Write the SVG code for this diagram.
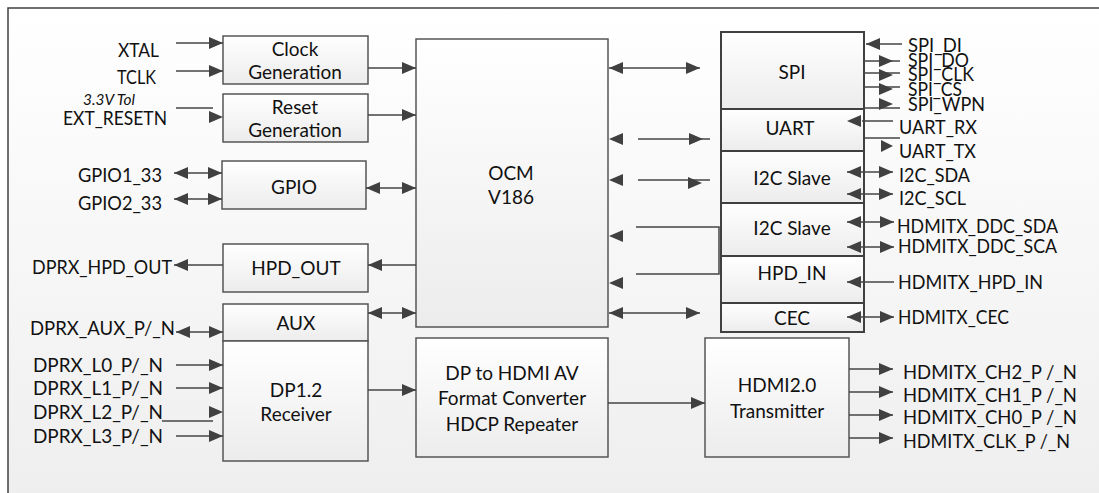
<svg xmlns="http://www.w3.org/2000/svg" width="1099" height="493" viewBox="0 0 1099 493">
<defs>
<linearGradient id="bg" x1="0" y1="0" x2="0" y2="1"><stop offset="0" stop-color="#ffffff"/><stop offset="1" stop-color="#eeeeee"/></linearGradient>
<linearGradient id="bx" x1="0" y1="0" x2="0" y2="1"><stop offset="0" stop-color="#ffffff"/><stop offset="1" stop-color="#ececec"/></linearGradient>
<marker id="ah" viewBox="0 0 14 12" refX="14" refY="6" markerWidth="14" markerHeight="12" markerUnits="userSpaceOnUse" orient="auto-start-reverse"><path d="M0,0 L14,6 L0,12 z" fill="#404040"/></marker>
</defs>
<style>
.t{font-family:Lato,"Open Sans",sans-serif;font-size:19px;fill:#111111}
.c{text-anchor:middle}
.e{text-anchor:end}
.i{font-style:italic;font-size:15px}
.b{fill:url(#bx);stroke:#555555;stroke-width:1.5}
.s{stroke:#404040;stroke-width:2}
.l{stroke:#444444;stroke-width:1.5;fill:none}
.a{marker-end:url(#ah)}
.d{marker-start:url(#ah);marker-end:url(#ah)}
.h{fill:#404040}
</style>
<rect x="0" y="0" width="1099" height="493" fill="#ffffff"/>
<rect x="8" y="8" width="1100" height="500" fill="url(#bg)" stroke="#404040" stroke-width="1.5"/>

<g id="clock"><rect class="b" x="223" y="36" width="145" height="48"/><text class="t c" x="295" y="56">Clock</text><text class="t c" x="295" y="79">Generation</text></g>
<g id="reset"><rect class="b" x="223" y="94" width="145" height="48"/><text class="t c" x="295" y="114">Reset</text><text class="t c" x="295" y="137">Generation</text></g>
<g id="gpio"><rect class="b" x="222" y="161" width="144" height="48"/><text class="t c" x="294" y="194">GPIO</text></g>
<g id="hpdout"><rect class="b" x="223" y="244" width="145" height="48"/><text class="t c" x="296" y="275">HPD_OUT</text></g>
<g id="aux"><rect class="b" x="223" y="304" width="145" height="37"/><text class="t c" x="296" y="330">AUX</text></g>
<g id="dprx"><rect class="b" x="223" y="341" width="145" height="120"/><text class="t c" x="296" y="397">DP1.2</text><text class="t c" x="296" y="421">Receiver</text></g>
<g id="ocm"><rect class="b" x="416" y="39" width="192" height="288"/><text class="t c" x="511" y="180">OCM</text><text class="t c" x="511" y="204">V186</text></g>
<g id="conv"><rect class="b" x="416" y="338" width="192" height="119"/><text class="t c" x="512" y="380">DP to HDMI AV</text><text class="t c" x="512" y="405">Format Converter</text><text class="t c" x="512" y="431">HDCP Repeater</text></g>
<g id="hdmitx"><rect class="b" x="705" y="338" width="144" height="119"/><text class="t c" x="777" y="392">HDMI2.0</text><text class="t c" x="777" y="418">Transmitter</text></g>
<g id="spi"><rect class="b s" x="721" y="32" width="143" height="77"/><text class="t c" x="792" y="79">SPI</text></g>
<g id="uart"><rect class="b s" x="721" y="109" width="143" height="42"/><text class="t c" x="790" y="135">UART</text></g>
<g id="i2c1"><rect class="b s" x="721" y="151" width="143" height="52"/><text class="t c" x="792" y="185">I2C Slave</text></g>
<g id="i2c2"><rect class="b s" x="721" y="203" width="143" height="53"/><text class="t c" x="792" y="235">I2C Slave</text></g>
<g id="hpdin"><rect class="b s" x="721" y="256" width="143" height="47"/><text class="t c" x="792" y="280">HPD_IN</text></g>
<g id="cec"><rect class="b s" x="721" y="303" width="143" height="29"/><text class="t c" x="792" y="325">CEC</text></g>

<g id="labels">
<text class="t" x="118" y="57" textLength="41" lengthAdjust="spacingAndGlyphs">XTAL</text>
<text class="t" x="117" y="84" textLength="39" lengthAdjust="spacingAndGlyphs">TCLK</text>
<text class="t i" x="83" y="105" textLength="52" lengthAdjust="spacingAndGlyphs">3.3V Tol</text>
<text class="t" x="63" y="125" textLength="104" lengthAdjust="spacingAndGlyphs">EXT_RESETN</text>
<text class="t" x="78" y="182" textLength="84" lengthAdjust="spacingAndGlyphs">GPIO1_33</text>
<text class="t" x="78" y="210" textLength="84" lengthAdjust="spacingAndGlyphs">GPIO2_33</text>
<text class="t" x="32" y="274" textLength="140" lengthAdjust="spacingAndGlyphs">DPRX_HPD_OUT</text>
<text class="t" x="30" y="335" textLength="145" lengthAdjust="spacingAndGlyphs">DPRX_AUX_P/_N</text>
<text class="t" x="33" y="372" textLength="130" lengthAdjust="spacingAndGlyphs">DPRX_L0_P/_N</text>
<text class="t" x="33" y="395" textLength="130" lengthAdjust="spacingAndGlyphs">DPRX_L1_P/_N</text>
<text class="t" x="33" y="419" textLength="130" lengthAdjust="spacingAndGlyphs">DPRX_L2_P/_N</text>
<text class="t" x="33" y="443" textLength="130" lengthAdjust="spacingAndGlyphs">DPRX_L3_P/_N</text>
<text class="t" x="908" y="52" textLength="54" lengthAdjust="spacingAndGlyphs">SPI_DI</text>
<text class="t" x="908" y="67" textLength="61" lengthAdjust="spacingAndGlyphs">SPI_DO</text>
<text class="t" x="908" y="81" textLength="66" lengthAdjust="spacingAndGlyphs">SPI_CLK</text>
<text class="t" x="908" y="96" textLength="54" lengthAdjust="spacingAndGlyphs">SPI_CS</text>
<text class="t" x="908" y="111" textLength="77" lengthAdjust="spacingAndGlyphs">SPI_WPN</text>
<text class="t" x="899" y="134" textLength="78" lengthAdjust="spacingAndGlyphs">UART_RX</text>
<text class="t" x="899" y="158" textLength="77" lengthAdjust="spacingAndGlyphs">UART_TX</text>
<text class="t" x="899" y="182" textLength="71" lengthAdjust="spacingAndGlyphs">I2C_SDA</text>
<text class="t" x="899" y="205" textLength="67" lengthAdjust="spacingAndGlyphs">I2C_SCL</text>
<text class="t" x="897" y="233" textLength="161" lengthAdjust="spacingAndGlyphs">HDMITX_DDC_SDA</text>
<text class="t" x="898" y="253" textLength="159" lengthAdjust="spacingAndGlyphs">HDMITX_DDC_SCA</text>
<text class="t" x="898" y="289" textLength="145" lengthAdjust="spacingAndGlyphs">HDMITX_HPD_IN</text>
<text class="t" x="898" y="324" textLength="111" lengthAdjust="spacingAndGlyphs">HDMITX_CEC</text>
<text class="t" x="903" y="379" textLength="174" lengthAdjust="spacingAndGlyphs">HDMITX_CH2_P /_N</text>
<text class="t" x="903" y="402" textLength="174" lengthAdjust="spacingAndGlyphs">HDMITX_CH1_P /_N</text>
<text class="t" x="903" y="424" textLength="174" lengthAdjust="spacingAndGlyphs">HDMITX_CH0_P /_N</text>
<text class="t" x="903" y="448" textLength="167" lengthAdjust="spacingAndGlyphs">HDMITX_CLK_P /_N</text>
</g>

<g id="connectors">
<line class="l a" x1="176" y1="43" x2="223" y2="43"/>
<line class="l a" x1="176" y1="71" x2="223" y2="71"/>
<line class="l" x1="176" y1="108" x2="213" y2="108"/>
<polygon class="h" points="209,111 223,117 209,123"/>
<line class="l a" x1="368" y1="68" x2="416" y2="68"/>
<line class="l a" x1="368" y1="115" x2="416" y2="115"/>
<line class="l d" x1="174" y1="173" x2="222" y2="173"/>
<line class="l d" x1="174" y1="199" x2="222" y2="199"/>
<line class="l d" x1="366" y1="188" x2="416" y2="188"/>
<line class="l a" x1="223" y1="265" x2="174" y2="265"/>
<line class="l a" x1="416" y1="265" x2="368" y2="265"/>
<line class="l d" x1="368" y1="313" x2="416" y2="313"/>
<line class="l d" x1="176" y1="332" x2="223" y2="332"/>
<line class="l a" x1="176" y1="365" x2="223" y2="365"/>
<line class="l a" x1="176" y1="388" x2="223" y2="388"/>
<line class="l" x1="162" y1="421" x2="213" y2="421" stroke-width="2"/>
<polygon class="h" points="209,406 223,412 209,418"/>
<line class="l a" x1="176" y1="436" x2="223" y2="436"/>
<line class="l a" x1="368" y1="390" x2="416" y2="390"/>
<line class="l a" x1="608" y1="403" x2="705" y2="403"/>
<line class="l a" x1="849" y1="369" x2="893" y2="369"/>
<line class="l a" x1="849" y1="392" x2="893" y2="392"/>
<line class="l a" x1="849" y1="415" x2="893" y2="415"/>
<line class="l a" x1="849" y1="438" x2="893" y2="438"/>
<line class="l d" x1="609" y1="68" x2="700" y2="68"/>
<polygon class="h" points="623,133 609,139 623,145"/>
<line class="l" x1="638" y1="139" x2="710" y2="139" stroke-width="2"/>
<polygon class="h" points="689,133 703,139 689,145"/>
<polygon class="h" points="623,174 609,180 623,186"/>
<line class="l" x1="638" y1="180" x2="710" y2="180" stroke-width="2"/>
<polygon class="h" points="688,177 702,183 688,189"/>
<polygon class="h" points="623,230 609,236 623,242"/>
<polygon class="h" points="623,277 609,283 623,289"/>
<polyline class="l" points="636,227 719,227 719,274 636,274"/>
<line class="l d" x1="609" y1="313" x2="700" y2="313"/>
<line class="l a" x1="902" y1="44" x2="866" y2="44"/>
<line class="l" x1="864" y1="61" x2="900" y2="61"/>
<polygon class="h" points="879,55 893,61 879,67"/>
<line class="l" x1="864" y1="73" x2="900" y2="73"/>
<polygon class="h" points="879,69 893,75 879,81"/>
<line class="l" x1="864" y1="87" x2="900" y2="87"/>
<polygon class="h" points="879,83 893,89 879,95"/>
<line class="l" x1="864" y1="108" x2="900" y2="108"/>
<polygon class="h" points="879,98 893,104 879,110"/>
<line class="l" x1="862" y1="121" x2="893" y2="121"/>
<polygon class="h" points="861,115 847,121 861,127"/>
<line class="l" x1="864" y1="138" x2="900" y2="138" stroke-width="2"/>
<polygon class="h" points="881,140 893,146 881,152"/>
<line class="l d" x1="847" y1="172" x2="893" y2="172"/>
<line class="l d" x1="847" y1="194" x2="893" y2="194"/>
<line class="l d" x1="847" y1="222" x2="894" y2="222"/>
<line class="l d" x1="847" y1="247" x2="894" y2="247"/>
<line class="l a" x1="894" y1="282" x2="847" y2="282"/>
<line class="l d" x1="847" y1="317" x2="894" y2="317"/>
</g>
</svg>
